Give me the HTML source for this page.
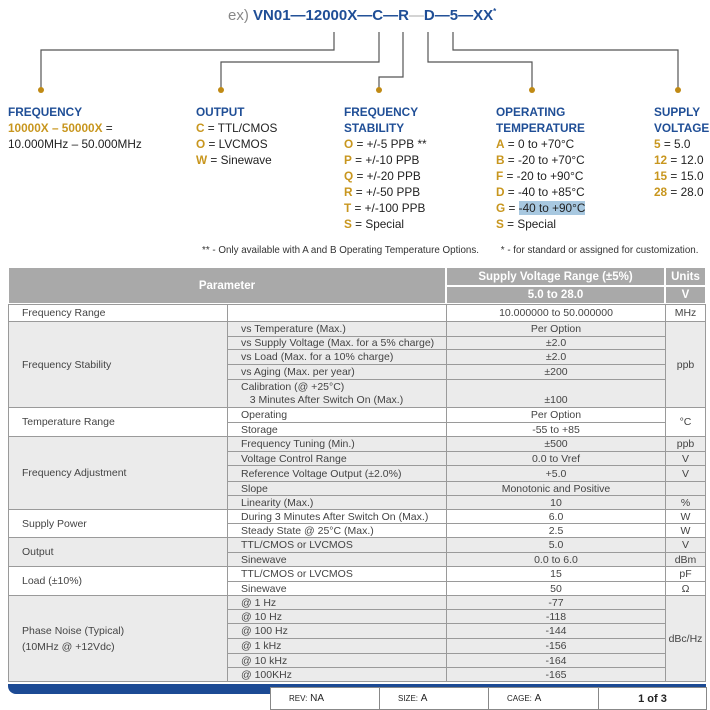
<!DOCTYPE html>
<html><head><meta charset="utf-8"><style>
body{margin:0;width:710px;height:710px;background:#fff;position:relative;overflow:hidden;font-family:"Liberation Sans",sans-serif;}
.a{position:absolute;white-space:nowrap;}
.lab{position:absolute;font-size:11.8px;line-height:16px;color:#222;white-space:nowrap;}
.b{color:#1f4e96;font-weight:bold;}
.g{color:#c8961e;font-weight:bold;}
.c{position:absolute;box-sizing:border-box;border:1px solid #9a9a9a;font-size:10.5px;color:#444;display:flex;align-items:center;white-space:nowrap;}
.w{background:#fff}.y{background:#ebebeb}
.l{padding-left:13px}.m{justify-content:center}
.h{background:#a9a9a9;color:#fff;font-weight:bold;font-size:11.5px;justify-content:center;border-color:#fff}
.f{position:absolute;top:687px;height:23px;box-sizing:border-box;border:1px solid #888;background:#fff;font-size:10px;display:flex;align-items:center;color:#222}
</style></head><body>
<div class="a" style="left:228px;top:7px;font-size:15px;color:#1f4e96;font-weight:bold;"><span style="color:#888;font-weight:normal">ex)</span> VN01—12000X—C—R<span style="color:#aaa;font-weight:normal">—</span>D—5—XX<sup style="font-size:8px">*</sup></div>
<svg class="a" style="left:0;top:0" width="710" height="100">
<g stroke="#555" stroke-width="1.2" fill="none">
<polyline points="334,32 334,50 41,50 41,90"/>
<polyline points="379,32 379,62 221,62 221,90"/>
<polyline points="403,32 403,77 379,77 379,90"/>
<polyline points="428,32 428,62 532,62 532,90"/>
<polyline points="453,32 453,50 678,50 678,90"/>
</g>
<g fill="#c08a14"><circle cx="41" cy="90" r="3"/><circle cx="221" cy="90" r="3"/><circle cx="379" cy="90" r="3"/><circle cx="532" cy="90" r="3"/><circle cx="678" cy="90" r="3"/></g>
</svg>
<div class="lab" style="left:8px;top:104px"><span class="b">FREQUENCY</span><br><span class="g">10000X – 50000X</span> =<br>10.000MHz – 50.000MHz</div>
<div class="lab" style="left:196px;top:104px"><span class="b">OUTPUT</span><br><span class="g">C</span> = TTL/CMOS<br><span class="g">O</span> = LVCMOS<br><span class="g">W</span> = Sinewave</div>
<div class="lab" style="left:344px;top:104px"><span class="b">FREQUENCY</span><br><span class="b">STABILITY</span><br><span class="g">O</span> = +/-5 PPB **<br><span class="g">P</span> = +/-10 PPB<br><span class="g">Q</span> = +/-20 PPB<br><span class="g">R</span> = +/-50 PPB<br><span class="g">T</span> = +/-100 PPB<br><span class="g">S</span> = Special</div>
<div class="lab" style="left:496px;top:104px"><span class="b">OPERATING</span><br><span class="b">TEMPERATURE</span><br><span class="g">A</span> = 0 to +70°C<br><span class="g">B</span> = -20 to +70°C<br><span class="g">F</span> = -20 to +90°C<br><span class="g">D</span> = -40 to +85°C<br><span class="g">G</span> = <span style="background:#a8c8e0">-40 to +90°C</span><br><span class="g">S</span> = Special</div>
<div class="lab" style="left:654px;top:104px"><span class="b">SUPPLY</span><br><span class="b">VOLTAGE</span><br><span class="g">5</span> = 5.0<br><span class="g">12</span> = 12.0<br><span class="g">15</span> = 15.0<br><span class="g">28</span> = 28.0</div>
<div class="a" style="left:202px;top:245px;font-size:9.8px;color:#333">** - Only available with A and B Operating Temperature Options.&nbsp;&nbsp;&nbsp;&nbsp;&nbsp;&nbsp;&nbsp; * - for standard or assigned for customization.</div>

<div class="c h" style="left:8px;top:267px;width:438px;height:37px">Parameter</div>
<div class="c h" style="left:446px;top:267px;width:219px;height:19px">Supply Voltage Range (±5%)</div>
<div class="c h" style="left:665px;top:267px;width:41px;height:19px">Units</div>
<div class="c h" style="left:446px;top:286px;width:219px;height:18px">5.0 to 28.0</div>
<div class="c h" style="left:665px;top:286px;width:41px;height:18px">V</div>

<div class="c w l" style="left:8px;top:304px;width:220px;height:18px">Frequency Range</div>
<div class="c w" style="left:227px;top:304px;width:220px;height:18px"></div>
<div class="c w m" style="left:446px;top:304px;width:220px;height:18px">10.000000 to 50.000000</div>
<div class="c w m" style="left:665px;top:304px;width:41px;height:18px">MHz</div>

<div class="c y l" style="left:8px;top:321px;width:220px;height:87px">Frequency Stability</div>
<div class="c y l" style="left:227px;top:321px;width:220px;height:16px">vs Temperature (Max.)</div>
<div class="c y m" style="left:446px;top:321px;width:220px;height:16px">Per Option</div>
<div class="c y l" style="left:227px;top:336px;width:220px;height:14px">vs Supply Voltage (Max. for a 5% charge)</div>
<div class="c y m" style="left:446px;top:336px;width:220px;height:14px">±2.0</div>
<div class="c y l" style="left:227px;top:349px;width:220px;height:16px">vs Load (Max. for a 10% charge)</div>
<div class="c y m" style="left:446px;top:349px;width:220px;height:16px">±2.0</div>
<div class="c y l" style="left:227px;top:364px;width:220px;height:16px">vs Aging (Max. per year)</div>
<div class="c y m" style="left:446px;top:364px;width:220px;height:16px">±200</div>
<div class="c y l" style="left:227px;top:379px;width:220px;height:29px;line-height:13px">Calibration (@ +25°C)<br>&nbsp;&nbsp;&nbsp;3 Minutes After Switch On (Max.)</div>
<div class="c y m" style="left:446px;top:379px;width:220px;height:29px;align-items:flex-end;padding-bottom:1px">±100</div>
<div class="c y m" style="left:665px;top:321px;width:41px;height:87px">ppb</div>

<div class="c w l" style="left:8px;top:407px;width:220px;height:30px">Temperature Range</div>
<div class="c w l" style="left:227px;top:407px;width:220px;height:16px">Operating</div>
<div class="c w m" style="left:446px;top:407px;width:220px;height:16px">Per Option</div>
<div class="c w l" style="left:227px;top:422px;width:220px;height:15px">Storage</div>
<div class="c w m" style="left:446px;top:422px;width:220px;height:15px">-55 to +85</div>
<div class="c w m" style="left:665px;top:407px;width:41px;height:30px">°C</div>

<div class="c y l" style="left:8px;top:436px;width:220px;height:74px">Frequency Adjustment</div>
<div class="c y l" style="left:227px;top:436px;width:220px;height:16px">Frequency Tuning (Min.)</div>
<div class="c y m" style="left:446px;top:436px;width:220px;height:16px">±500</div>
<div class="c y m" style="left:665px;top:436px;width:41px;height:16px">ppb</div>
<div class="c y l" style="left:227px;top:451px;width:220px;height:15px">Voltage Control Range</div>
<div class="c y m" style="left:446px;top:451px;width:220px;height:15px">0.0 to Vref</div>
<div class="c y m" style="left:665px;top:451px;width:41px;height:15px">V</div>
<div class="c y l" style="left:227px;top:465px;width:220px;height:17px">Reference Voltage Output (±2.0%)</div>
<div class="c y m" style="left:446px;top:465px;width:220px;height:17px">+5.0</div>
<div class="c y m" style="left:665px;top:465px;width:41px;height:17px">V</div>
<div class="c y l" style="left:227px;top:481px;width:220px;height:15px">Slope</div>
<div class="c y m" style="left:446px;top:481px;width:220px;height:15px">Monotonic and Positive</div>
<div class="c y m" style="left:665px;top:481px;width:41px;height:15px"></div>
<div class="c y l" style="left:227px;top:495px;width:220px;height:15px">Linearity (Max.)</div>
<div class="c y m" style="left:446px;top:495px;width:220px;height:15px">10</div>
<div class="c y m" style="left:665px;top:495px;width:41px;height:15px">%</div>

<div class="c w l" style="left:8px;top:509px;width:220px;height:29px">Supply Power</div>
<div class="c w l" style="left:227px;top:509px;width:220px;height:15px">During 3 Minutes After Switch On (Max.)</div>
<div class="c w m" style="left:446px;top:509px;width:220px;height:15px">6.0</div>
<div class="c w m" style="left:665px;top:509px;width:41px;height:15px">W</div>
<div class="c w l" style="left:227px;top:523px;width:220px;height:15px">Steady State @ 25°C (Max.)</div>
<div class="c w m" style="left:446px;top:523px;width:220px;height:15px">2.5</div>
<div class="c w m" style="left:665px;top:523px;width:41px;height:15px">W</div>

<div class="c y l" style="left:8px;top:537px;width:220px;height:30px">Output</div>
<div class="c y l" style="left:227px;top:537px;width:220px;height:16px">TTL/CMOS or LVCMOS</div>
<div class="c y m" style="left:446px;top:537px;width:220px;height:16px">5.0</div>
<div class="c y m" style="left:665px;top:537px;width:41px;height:16px">V</div>
<div class="c y l" style="left:227px;top:552px;width:220px;height:15px">Sinewave</div>
<div class="c y m" style="left:446px;top:552px;width:220px;height:15px">0.0 to 6.0</div>
<div class="c y m" style="left:665px;top:552px;width:41px;height:15px">dBm</div>

<div class="c w l" style="left:8px;top:566px;width:220px;height:30px">Load (±10%)</div>
<div class="c w l" style="left:227px;top:566px;width:220px;height:16px">TTL/CMOS or LVCMOS</div>
<div class="c w m" style="left:446px;top:566px;width:220px;height:16px">15</div>
<div class="c w m" style="left:665px;top:566px;width:41px;height:16px">pF</div>
<div class="c w l" style="left:227px;top:581px;width:220px;height:15px">Sinewave</div>
<div class="c w m" style="left:446px;top:581px;width:220px;height:15px">50</div>
<div class="c w m" style="left:665px;top:581px;width:41px;height:15px">Ω</div>

<div class="c y l" style="left:8px;top:595px;width:220px;height:87px;line-height:16px">Phase Noise (Typical)<br>(10MHz @ +12Vdc)</div>
<div class="c y l" style="left:227px;top:595px;width:220px;height:15px">@ 1 Hz</div>
<div class="c y m" style="left:446px;top:595px;width:220px;height:15px">-77</div>
<div class="c y l" style="left:227px;top:609px;width:220px;height:15px">@ 10 Hz</div>
<div class="c y m" style="left:446px;top:609px;width:220px;height:15px">-118</div>
<div class="c y l" style="left:227px;top:623px;width:220px;height:16px">@ 100 Hz</div>
<div class="c y m" style="left:446px;top:623px;width:220px;height:16px">-144</div>
<div class="c y l" style="left:227px;top:638px;width:220px;height:16px">@ 1 kHz</div>
<div class="c y m" style="left:446px;top:638px;width:220px;height:16px">-156</div>
<div class="c y l" style="left:227px;top:653px;width:220px;height:15px">@ 10 kHz</div>
<div class="c y m" style="left:446px;top:653px;width:220px;height:15px">-164</div>
<div class="c y l" style="left:227px;top:667px;width:220px;height:15px">@ 100KHz</div>
<div class="c y m" style="left:446px;top:667px;width:220px;height:15px">-165</div>
<div class="c y m" style="left:665px;top:595px;width:41px;height:87px">dBc/Hz</div>

<div class="a" style="left:8px;top:684px;width:698px;height:10px;background:#1c4a94;border-bottom-left-radius:8px"></div>
<div class="f" style="left:270px;width:110px;padding-left:18px;"><span style="font-size:8px">REV:</span>&nbsp;NA</div>
<div class="f" style="left:379px;width:110px;padding-left:18px;"><span style="font-size:8px">SIZE:</span>&nbsp;A</div>
<div class="f" style="left:488px;width:111px;padding-left:18px;"><span style="font-size:8px">CAGE:</span>&nbsp;A</div>
<div class="f" style="left:598px;width:109px;justify-content:center;font-weight:bold;font-size:11px">1 of 3</div>
</body></html>
